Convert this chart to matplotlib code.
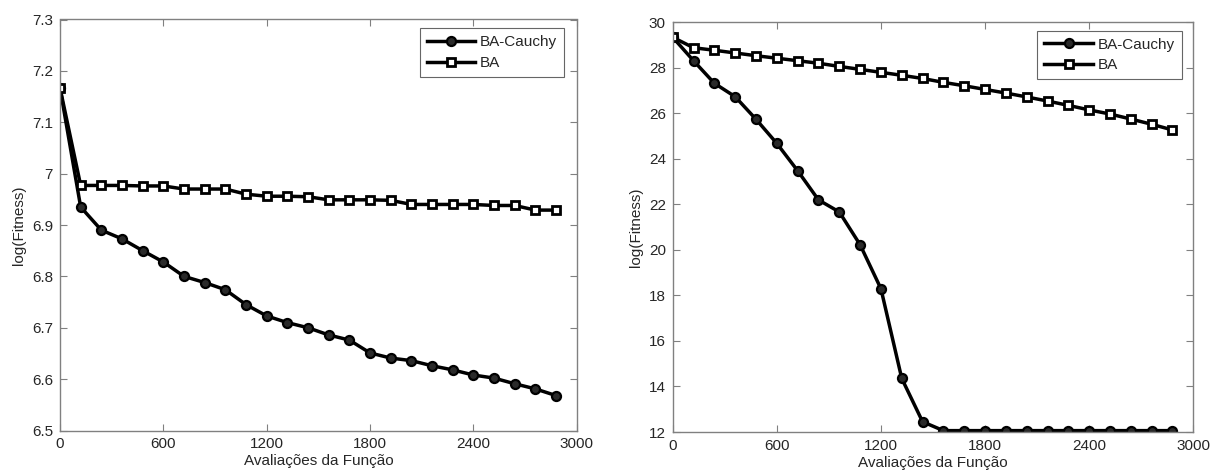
import matplotlib
matplotlib.use("Agg")
import matplotlib.pyplot as plt

plt.rcParams['font.family'] = ['Liberation Sans', 'DejaVu Sans']

evals = [0, 120, 240, 360, 480, 600, 720, 840, 960, 1080, 1200, 1320, 1440,
         1560, 1680, 1800, 1920, 2040, 2160, 2280, 2400, 2520, 2640, 2760, 2880]

left_cauchy = [7.167, 6.935, 6.890, 6.873, 6.850, 6.828, 6.800, 6.788, 6.774,
               6.745, 6.723, 6.710, 6.700, 6.686, 6.676, 6.651, 6.641, 6.636,
               6.626, 6.618, 6.608, 6.602, 6.591, 6.581, 6.568]
left_ba = [7.167, 6.977, 6.977, 6.977, 6.976, 6.976, 6.970, 6.970, 6.970,
           6.960, 6.956, 6.956, 6.955, 6.949, 6.949, 6.949, 6.948, 6.940,
           6.940, 6.940, 6.940, 6.938, 6.938, 6.929, 6.929]

right_cauchy = [29.33, 28.30, 27.31, 26.72, 25.73, 24.67, 23.47, 22.19, 21.66,
                20.22, 18.29, 14.35, 12.45, 12.06, 12.06, 12.06, 12.06, 12.06,
                12.06, 12.06, 12.06, 12.06, 12.06, 12.06, 12.06]
right_ba = [29.33, 28.87, 28.76, 28.64, 28.52, 28.41, 28.30, 28.19, 28.05,
            27.92, 27.79, 27.66, 27.52, 27.35, 27.20, 27.04, 26.88, 26.71,
            26.53, 26.34, 26.14, 25.96, 25.74, 25.51, 25.26]

xticks = [0, 600, 1200, 1800, 2400, 3000]
left_yticks = [6.5, 6.6, 6.7, 6.8, 6.9, 7.0, 7.1, 7.2, 7.3]
left_yticklabels = ['6.5', '6.6', '6.7', '6.8', '6.9', '7', '7.1', '7.2', '7.3']
right_yticks = [12, 14, 16, 18, 20, 22, 24, 26, 28, 30]

series_labels = ['BA-Cauchy', 'BA']
xlabel = 'Avaliações da Função'
ylabel = 'log(Fitness)'

W, H = 1213, 473
fig = plt.figure(figsize=(W / 100, H / 100), dpi=100)

def make_axes(l, r, t, b):
    return fig.add_axes([l / W, 1 - b / H, (r - l) / W, (b - t) / H])

ax1 = make_axes(60, 576.7, 19.5, 430.5)
ax2 = make_axes(672.7, 1193.3, 22, 432)

spine_col = '#808080'
text_col = '#262626'
fs = 11

def style(ax, y_c, y_b, yticks, ylim, yticklabels=None, legend_bbox=None):
    ax.plot(evals, y_c, '-', color='black', lw=2.5, marker='o', ms=6.5,
            mfc='#2a2a2a', mec='black', mew=1.6, label=series_labels[0])
    ax.plot(evals, y_b, '-', color='black', lw=2.5, marker='s', ms=6,
            mfc='white', mec='black', mew=2.0, label=series_labels[1])
    ax.set_xlim(0, 3000)
    ax.set_ylim(*ylim)
    ax.set_xticks(xticks)
    ax.set_yticks(yticks)
    if yticklabels is not None:
        ax.set_yticklabels(yticklabels)
    for s in ax.spines.values():
        s.set_color(spine_col)
        s.set_linewidth(1.0)
    ax.tick_params(direction='in', top=True, right=True, length=5,
                   color=spine_col, labelsize=fs, labelcolor=text_col, pad=5)
    ax.set_xlabel(xlabel, fontsize=fs, color=text_col, labelpad=2)
    ax.set_ylabel(ylabel, fontsize=fs, color=text_col, labelpad=4)
    leg = ax.legend(loc='upper right', bbox_to_anchor=legend_bbox,
                    fontsize=fs, frameon=True, fancybox=False,
                    borderpad=0.45, handlelength=3.2, handletextpad=0.3,
                    labelspacing=0.45, borderaxespad=0.0)
    leg.get_frame().set_edgecolor('#404040')
    leg.get_frame().set_linewidth(0.8)
    for t in leg.get_texts():
        t.set_color(text_col)

style(ax1, left_cauchy, left_ba, left_yticks, (6.5, 7.3), left_yticklabels,
      legend_bbox=((564 - 60) / (576.7 - 60), 1 - (28.3 - 19.5) / (430.5 - 19.5)))
style(ax2, right_cauchy, right_ba, right_yticks, (12, 30),
      legend_bbox=((1181.7 - 672.7) / (1193.3 - 672.7), 1 - (30.7 - 22) / (432 - 22)))

fig.savefig('out.png', dpi=100)
